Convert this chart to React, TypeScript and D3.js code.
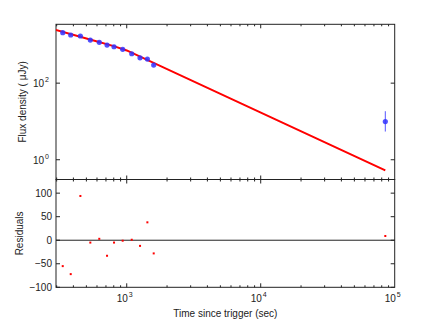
import React, { useEffect, useRef } from 'react';
import * as d3 from 'd3';

// observed light curve (time since trigger in sec, flux in uJy)
const obsTime = [333, 382, 451, 535, 624, 713, 804, 933, 1090, 1257, 1426, 1590, 85100];
const obsFlux = [2074, 1806, 1700, 1336, 1162, 988, 892, 762, 585, 459, 425, 296, 9.9];
const obsErrLo = [1980, 1730, 1630, 1280, 1115, 950, 858, 733, 562, 441, 408, 283, 5.45];
const obsErrHi = [2170, 1880, 1770, 1390, 1210, 1026, 926, 791, 608, 477, 442, 309, 18.5];
const residuals = [-55, -72, 94, -5, 3, -33, -5, -1, 1, -12, 38, -28, 9];

// fitted model
const modelTime = [296, 532, 800, 1000, 85100];
const modelFlux = [2440, 1384, 925, 715, 0.528];

const xTicks = [1e3, 1e4, 1e5];
const fluxTicks = [1, 100];
const fluxTickLabels = ['0', '2'];
const residTicks = [100, 50, 0, -50, -100];

export const Margins = {
  LEFT: 56,
  RIGHT: 394.7,
  TOP: 24.3,
  MID: 179.5,
  BOTTOM: 287.3,
};

export default function App() {
  const svgRef = useRef(null);

  useEffect(() => {
    const svg = d3.select(svgRef.current);
    svg.selectAll('*').remove();
    const font = 'Liberation Sans, Arial, sans-serif';

    const x = d3.scaleLog().domain([296.6, 1e5]).range([Margins.LEFT, Margins.RIGHT]);
    const yTop = d3.scaleLog().domain([0.305, 3440]).range([Margins.MID, Margins.TOP]);
    const yBot = d3.scaleLinear().domain([-100, 129]).range([Margins.BOTTOM, Margins.MID]);

    // minor ticks along x
    const minor = [];
    for (let e = 2; e <= 4; e += 1) {
      for (let m = 1; m <= 9; m += 1) {
        const v = m * 10 ** e;
        if (v >= 296.6 && v <= 1e5) minor.push(v);
      }
    }

    const drawFrame = (y0, y1) => {
      const g = svg.append('g');
      g.append('rect')
        .attr('x', Margins.LEFT).attr('y', y0)
        .attr('width', Margins.RIGHT - Margins.LEFT).attr('height', y1 - y0)
        .attr('fill', 'none').attr('stroke', '#222').attr('stroke-width', 1);
      minor.forEach((v) => {
        const major = xTicks.includes(v);
        const len = major ? 4 : 2;
        g.append('line').attr('x1', x(v)).attr('x2', x(v)).attr('y1', y1).attr('y2', y1 - len)
          .attr('stroke', '#222');
        g.append('line').attr('x1', x(v)).attr('x2', x(v)).attr('y1', y0).attr('y2', y0 + len)
          .attr('stroke', '#222');
      });
      return g;
    };

    // top panel
    const gTop = drawFrame(Margins.TOP, Margins.MID);
    fluxTicks.forEach((v, i) => {
      gTop.append('line').attr('x1', Margins.LEFT).attr('x2', Margins.LEFT + 4)
        .attr('y1', yTop(v)).attr('y2', yTop(v)).attr('stroke', '#222');
      gTop.append('line').attr('x1', Margins.RIGHT).attr('x2', Margins.RIGHT - 4)
        .attr('y1', yTop(v)).attr('y2', yTop(v)).attr('stroke', '#222');
      const t = gTop.append('text')
        .attr('x', 49).attr('y', yTop(v) + 4)
        .attr('text-anchor', 'end')
        .attr('font-family', font).attr('font-size', 10).attr('fill', '#222');
      t.append('tspan').text('10');
      t.append('tspan').attr('dy', -5).attr('dx', 1).attr('font-size', 7).text(fluxTickLabels[i]);
    });

    const clip = svg.append('clipPath').attr('id', 'topclip');
    clip.append('rect').attr('x', Margins.LEFT).attr('y', Margins.TOP)
      .attr('width', Margins.RIGHT - Margins.LEFT).attr('height', Margins.MID - Margins.TOP);

    const line = d3.line().x((d) => x(d[0])).y((d) => yTop(d[1]));
    svg.append('path')
      .datum(modelTime.map((t, i) => [t, modelFlux[i]]))
      .attr('clip-path', 'url(#topclip)')
      .attr('d', line)
      .attr('fill', 'none').attr('stroke', '#ff0000').attr('stroke-width', 2);

    obsTime.forEach((t, i) => {
      svg.append('line').attr('x1', x(t)).attr('x2', x(t))
        .attr('y1', yTop(obsErrLo[i])).attr('y2', yTop(obsErrHi[i]))
        .attr('stroke', '#5555ff').attr('stroke-width', 1);
      svg.append('circle').attr('cx', x(t)).attr('cy', yTop(obsFlux[i])).attr('r', 2.6)
        .attr('fill', '#3333ff').attr('fill-opacity', 0.85);
    });

    svg.append('text')
      .attr('transform', `translate(26,${(Margins.TOP + Margins.MID) / 2}) rotate(-90)`)
      .attr('text-anchor', 'middle')
      .attr('font-family', font).attr('font-size', 10).attr('fill', '#222')
      .text('Flux density ( μJy)');

    // bottom panel
    const gBot = drawFrame(Margins.MID, Margins.BOTTOM);
    residTicks.forEach((v) => {
      gBot.append('line').attr('x1', Margins.LEFT).attr('x2', Margins.LEFT + 4)
        .attr('y1', yBot(v)).attr('y2', yBot(v)).attr('stroke', '#222');
      gBot.append('line').attr('x1', Margins.RIGHT).attr('x2', Margins.RIGHT - 4)
        .attr('y1', yBot(v)).attr('y2', yBot(v)).attr('stroke', '#222');
      gBot.append('text')
        .attr('x', 52).attr('y', yBot(v) + 3.5)
        .attr('text-anchor', 'end')
        .attr('font-family', font).attr('font-size', 10).attr('fill', '#222')
        .text(v < 0 ? `\u2212${-v}` : `${v}`);
    });
    gBot.append('line').attr('x1', Margins.LEFT).attr('x2', Margins.RIGHT)
      .attr('y1', yBot(0)).attr('y2', yBot(0)).attr('stroke', '#222');

    obsTime.forEach((t, i) => {
      svg.append('rect').attr('x', x(t) - 1).attr('y', yBot(residuals[i]) - 1)
        .attr('width', 2).attr('height', 2).attr('fill', '#ff0000');
    });

    xTicks.forEach((v, i) => {
      const t = gBot.append('text')
        .attr('x', x(v) - 2).attr('y', Margins.BOTTOM + 15)
        .attr('text-anchor', 'middle')
        .attr('font-family', font).attr('font-size', 10).attr('fill', '#222');
      t.append('tspan').text('10');
      t.append('tspan').attr('dy', -5).attr('dx', 1).attr('font-size', 7).text(String(3 + i));
    });

    svg.append('text')
      .attr('transform', `translate(23,${(Margins.MID + Margins.BOTTOM) / 2}) rotate(-90)`)
      .attr('text-anchor', 'middle')
      .attr('font-family', font).attr('font-size', 10).attr('fill', '#222')
      .text('Residuals');

    svg.append('text')
      .attr('x', (Margins.LEFT + Margins.RIGHT) / 2).attr('y', 316.5)
      .attr('text-anchor', 'middle')
      .attr('font-family', font).attr('font-size', 10).attr('fill', '#222')
      .text('Time since trigger (sec)');
  }, []);

  return (
    <svg
      ref={svgRef}
      width={436}
      height={327}
      style={{ position: 'absolute', left: 0, top: 0, background: '#fff' }}
    />
  );
}
